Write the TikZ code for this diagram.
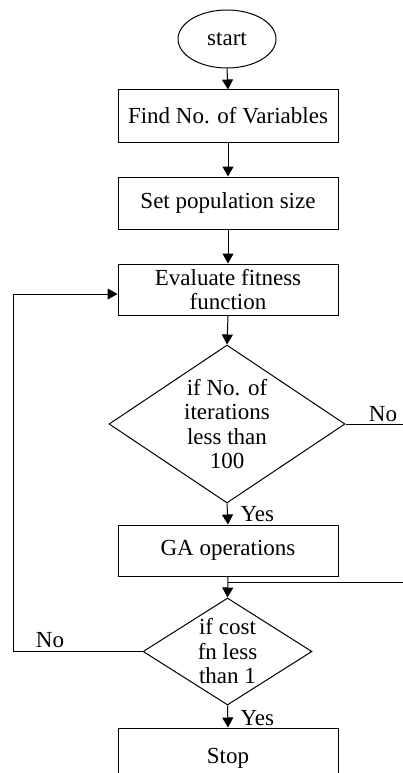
\documentclass[tikz,border=0pt]{standalone}
\usepackage{fontspec}
\setmainfont{Liberation Serif}
\usetikzlibrary{shapes.geometric,arrows.meta}
\begin{document}
\begin{tikzpicture}[x=1pt,y=-1pt,
  every node/.style={font=\fontsize{23}{24.5}\selectfont, inner sep=0pt, line width=1pt},
  procbox/.style={draw, rectangle, minimum width=220pt, minimum height=52pt, align=center},
  decision/.style={draw, diamond, align=center},
  arr/.style={-{Triangle[length=10pt,width=11pt]}, line width=1pt},
  ln/.style={line width=1pt}]
\useasboundingbox (0,0) rectangle (403,773);
\clip (0,0) rectangle (403,773);
\node[draw, ellipse, minimum width=98pt, minimum height=58pt] (st) at (227,39) {start};
\node[procbox] (b1) at (228,116) {Find No. of Variables};
\node[procbox] (b2) at (228,203) {Set population size};
\node[procbox, minimum height=51pt] (b3) at (228,289.5) {Evaluate fitness\\function};
\node[decision, minimum width=236pt, minimum height=158pt, aspect=1.49] (d1) at (227,424) {if No. of\\iterations\\less than\\100};
\node[procbox, minimum height=51pt] (b4) at (228,550.5) {GA operations};
\node[decision, minimum width=169pt, minimum height=107pt, aspect=1.58] (d2) at (227.5,651.5) {if cost\\fn less\\than 1};
\node[procbox, minimum height=60pt] (b5) at (228,758) {Stop};
\coordinate (r1) at (403,424);
\coordinate (j) at (228,582);
\coordinate (r2) at (403,582);
\coordinate (fb) at (13,651.5);
\draw[arr] (st.south) -- (b1.north);
\draw[arr] (b1.south) -- (b2.north);
\draw[arr] (b2.south) -- (b3.north);
\draw[arr] (b3.south) -- (d1.north);
\draw[arr] (d1.south) -- (b4.north);
\draw[arr] (b4.south) -- (d2.north);
\draw[arr] (d2.south) -- (b5.north);
\draw[ln] (d1.east) -- (r1);
\draw[ln] (j) -- (r2);
\draw[arr] (d2.west) -- (fb) |- ([yshift=-4.5pt]b3.west);
\node[anchor=south] (no1) at (383,422) {No};
\node[anchor=south] (no2) at (50,648) {No};
\node[anchor=west] (y1) at (240,514) {Yes};
\node[anchor=west] (y2) at (240,718) {Yes};
\end{tikzpicture}
\end{document}
